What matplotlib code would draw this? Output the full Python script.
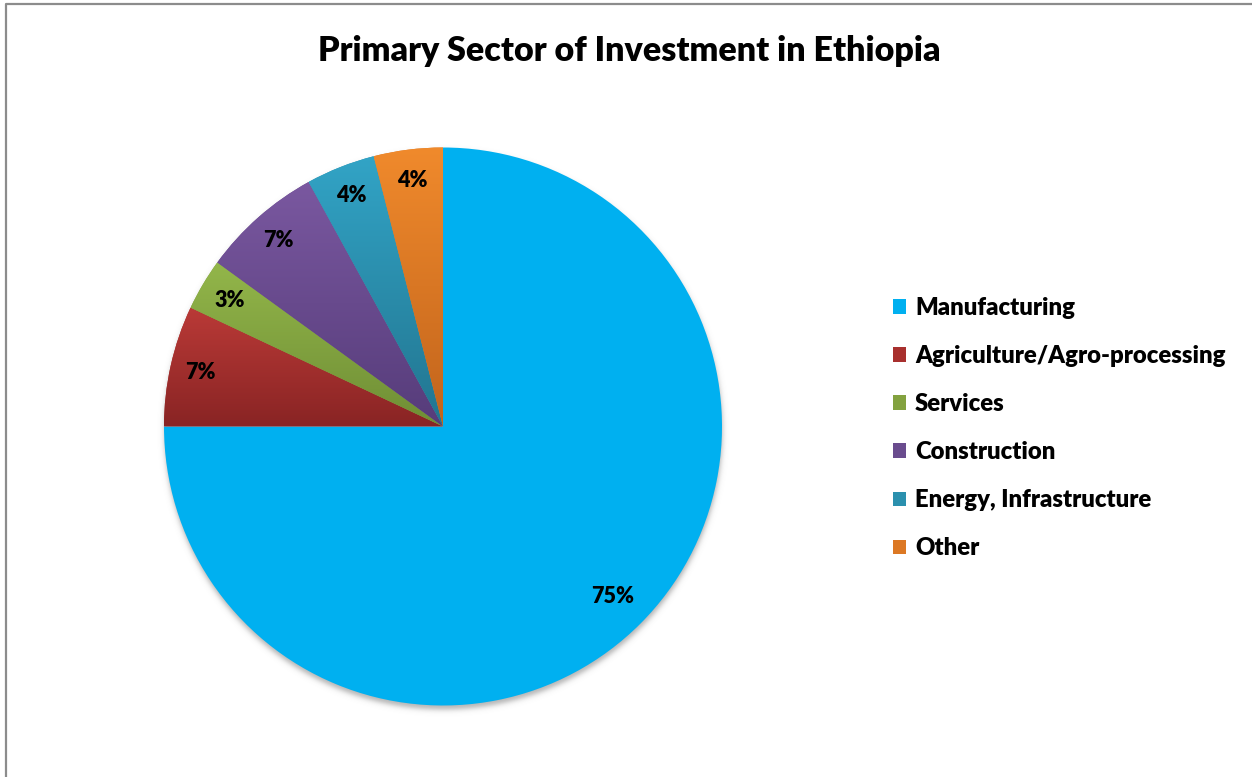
import numpy as np
import matplotlib
matplotlib.use("Agg")
import matplotlib.pyplot as plt
from matplotlib.colors import to_rgba
from matplotlib.lines import Line2D
from matplotlib.patches import Patch

# ---- data ----
sectors = ["Manufacturing", "Agriculture/Agro-processing", "Services",
           "Construction", "Energy, Infrastructure", "Other"]
shares = [75, 7, 3, 7, 4, 4]
title = "Primary Sector of Investment in Ethiopia"

# top / bottom shades of each slice's vertical gradient
top_colors = ["#00B0F0", "#BA3A37", "#93B64A", "#7A58A0", "#32A4C6", "#F08A2C"]
bottom_colors = ["#00B0F0", "#892424", "#6F8E35", "#563C7A", "#227590", "#C2641C"]
mid_colors = ["#00B0F0", "#A8302E", "#83A23F", "#6A4C8E", "#2B90AE", "#DC7824"]

W, H = 1252, 777
FONT = "Lato"
WEIGHT = "heavy"

fig = plt.figure(figsize=(W / 100, H / 100), dpi=100)
ax = fig.add_axes([0, 0, 1, 1])

cx, cy, R = 443, H - 426.5, 279

# soft drop shadow beneath the pie
ys, xs = np.mgrid[H:0:-1, 0:W]
d = np.hypot(xs - cx, ys - (cy - 3.5))
shadow = np.zeros((H, W, 4))
shadow[..., :3] = 0.35
shadow[..., 3] = 0.45 / (1 + np.exp((d - R) / 1.6))
ax.imshow(shadow, extent=(0, W, 0, H), origin="upper", zorder=0,
          interpolation="bilinear")

wedges, texts, autotexts = ax.pie(
    shares, colors=mid_colors, startangle=90, counterclock=False,
    center=(cx, cy), radius=R, autopct="%d%%", pctdistance=0.89,
    wedgeprops=dict(linewidth=0, zorder=1),
    textprops=dict(fontsize=15.5, fontweight=WEIGHT, family=FONT, color="black"),
)
autotexts[0].set_position((cx + 0.86 * R * np.cos(np.radians(-45)),
                           cy + 0.86 * R * np.sin(np.radians(-45))))
for t in autotexts:
    t.set_zorder(5)

# vertical gradient fill for each slice
for w, ct, cb in zip(wedges, top_colors, bottom_colors):
    if ct == cb:
        continue
    bb = w.get_path().get_extents()
    n = 256
    t = np.linspace(0, 1, n)[:, None]
    a, b = np.array(to_rgba(ct)), np.array(to_rgba(cb))
    grad = (a * (1 - t) + b * t)[:, None, :]
    im = ax.imshow(grad, extent=(bb.x0, bb.x1, bb.y0, bb.y1), origin="upper",
                   zorder=2, interpolation="bilinear", aspect="auto")
    im.set_clip_path(w)

ax.set_xlim(0, W)
ax.set_ylim(0, H)
ax.set_aspect("auto")
ax.axis("off")

# chart frame
ax.add_line(Line2D([6, 6, W], [0, H - 3.5, H - 3.5], color="#8C8C8C", lw=1.6,
                   zorder=6))

ax.text(629, H - 51, title, ha="center", va="center", fontsize=24.5,
        fontweight=WEIGHT, family=FONT)

handles = [Patch(facecolor=c, edgecolor="none") for c in mid_colors]
leg = ax.legend(handles, sectors, loc="upper left",
                bbox_to_anchor=(893 / W, 1 - 297 / H), frameon=False,
                borderpad=0, borderaxespad=0,
                handlelength=0.55, handleheight=0.55, handletextpad=0.37,
                labelspacing=1.09,
                prop=dict(family=FONT, weight=WEIGHT, size=17.2))

fig.savefig("out.png", dpi=100)
